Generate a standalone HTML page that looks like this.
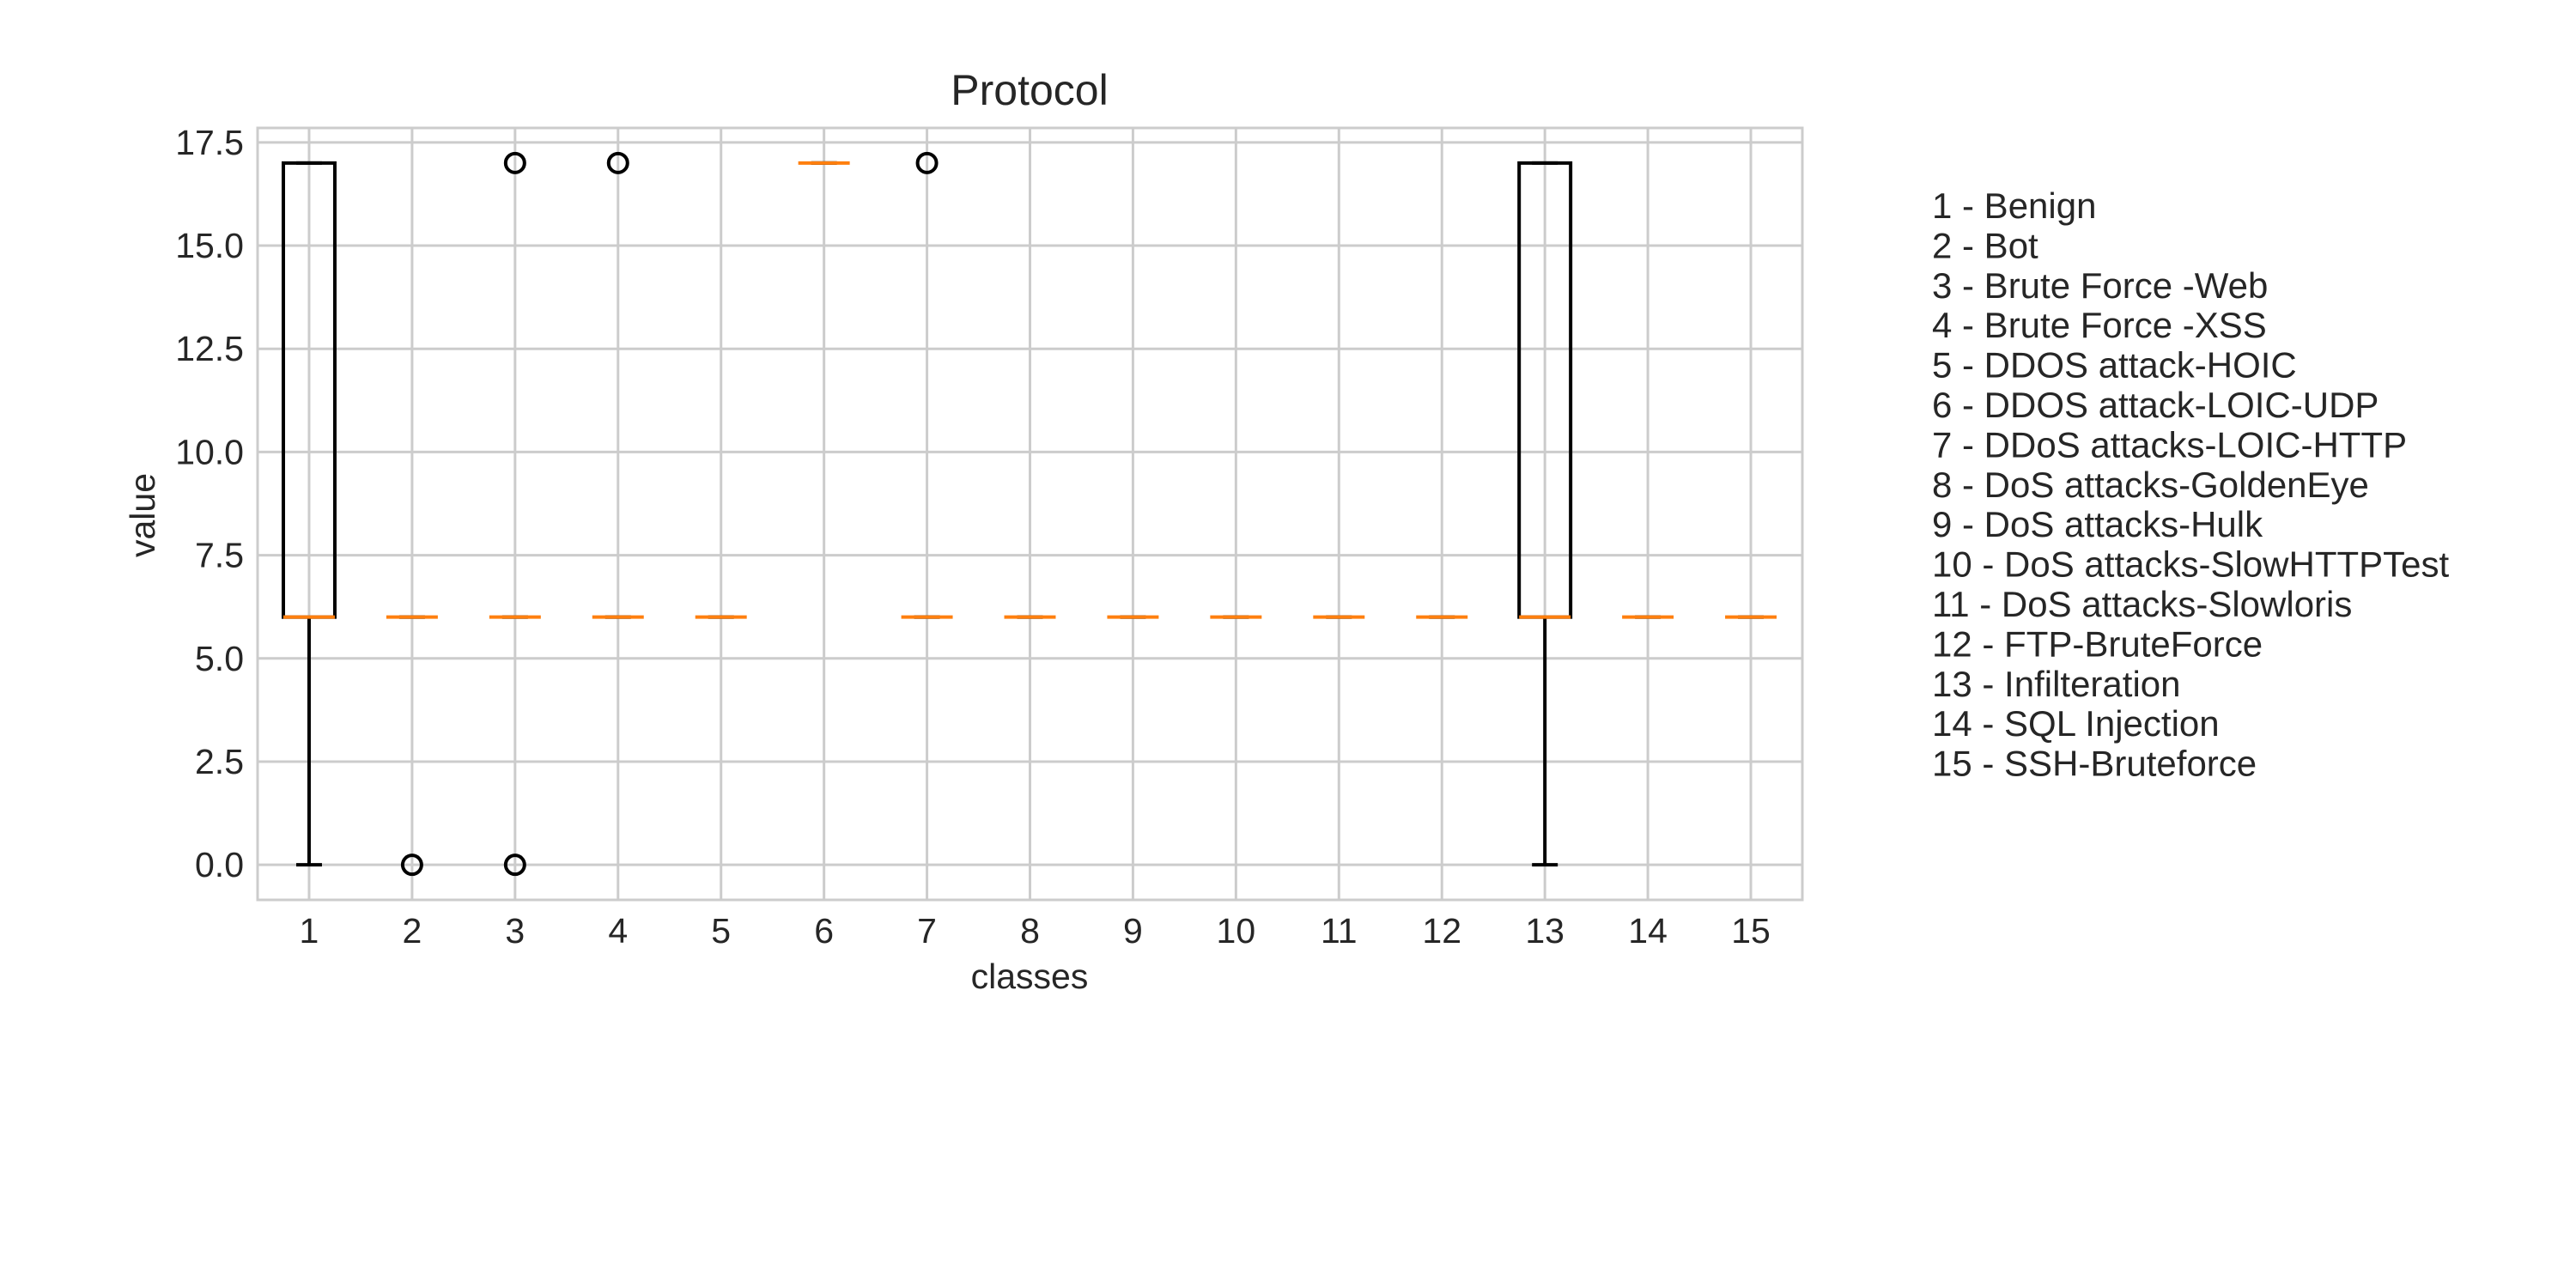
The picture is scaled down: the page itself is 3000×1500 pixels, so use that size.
<!DOCTYPE html>
<html><head><meta charset="utf-8"><style>
html,body{margin:0;padding:0;background:#fff;}
svg{display:block;font-family:"Liberation Sans",sans-serif;}
</style></head><body>
<svg id="chart" width="3000" height="1500" viewBox="0 0 3000 1500">
<text x="1199" y="122" font-size="50" text-anchor="middle" fill="#262626">Protocol</text>
<g id="grid"></g>
<g id="marks"></g>
<rect x="300" y="149" width="1799" height="899" fill="none" stroke="#cccccc" stroke-width="3"/>
<g id="ticks"></g>
<text x="1199" y="1151" font-size="41" text-anchor="middle" fill="#262626">classes</text>
<text transform="translate(180,600) rotate(-90)" font-size="41" text-anchor="middle" fill="#262626">value</text>
<g id="legend"></g>
</svg>
<script>
const categories = ["1","2","3","4","5","6","7","8","9","10","11","12","13","14","15"];
const q1Values = [6,6,6,6,6,17,6,6,6,6,6,6,6,6,6];
const medianValues = [6,6,6,6,6,17,6,6,6,6,6,6,6,6,6];
const q3Values = [17,6,6,6,6,17,6,6,6,6,6,6,17,6,6];
const whiskerLow = [0,6,6,6,6,17,6,6,6,6,6,6,0,6,6];
const whiskerHigh = [17,6,6,6,6,17,6,6,6,6,6,6,17,6,6];
const outliers = [[],[0],[17,0],[17],[],[],[17],[],[],[],[],[],[],[],[]];
const yTicks = [0,2.5,5,7.5,10,12.5,15,17.5];
const yTickLabels = ["0.0","2.5","5.0","7.5","10.0","12.5","15.0","17.5"];
const legendLabels = ["1 - Benign","2 - Bot","3 - Brute Force -Web","4 - Brute Force -XSS","5 - DDOS attack-HOIC","6 - DDOS attack-LOIC-UDP","7 - DDoS attacks-LOIC-HTTP","8 - DoS attacks-GoldenEye","9 - DoS attacks-Hulk","10 - DoS attacks-SlowHTTPTest","11 - DoS attacks-Slowloris","12 - FTP-BruteForce","13 - Infilteration","14 - SQL Injection","15 - SSH-Bruteforce"];

const L=300,R=2099,T=149,B=1048,Y0=-0.85,Y1=17.85,X0=0.5,X1=15.5;
const xs=v=>L+(v-X0)/(X1-X0)*(R-L);
const ys=v=>B-(v-Y0)/(Y1-Y0)*(B-T);
const NS="http://www.w3.org/2000/svg";
function mk(tag,attrs,parent){const e=document.createElementNS(NS,tag);for(const k in attrs)e.setAttribute(k,attrs[k]);parent.appendChild(e);return e;}
const grid=document.getElementById('grid'),marks=document.getElementById('marks'),ticks=document.getElementById('ticks'),legend=document.getElementById('legend');

yTicks.forEach((v,i)=>{
  const g=mk('line',{x1:L,x2:R,y1:ys(v),y2:ys(v),stroke:'#cccccc','stroke-width':3},grid);
  
  
  const t=mk('text',{x:L-16,y:ys(v)+14,'font-size':41,'text-anchor':'end',fill:'#262626'},ticks);
  t.textContent=yTickLabels[i];
  
  
});
categories.forEach((c,i)=>{
  const x=xs(i+1);
  const g=mk('line',{x1:x,x2:x,y1:T,y2:B,stroke:'#cccccc','stroke-width':3},grid);
  
  
  const t=mk('text',{x:x,y:B+50,'font-size':41,'text-anchor':'middle',fill:'#262626'},ticks);
  t.textContent=c;
  
  
  const hw=xs(1.25)-xs(1), cw=xs(1.125)-xs(1);
  const grp=mk('g',{},marks);
  
  
  const st={stroke:'#000','stroke-width':4,fill:'none'};
  mk('rect',Object.assign({x:x-hw,y:ys(q3Values[i]),width:2*hw,height:Math.max(0,ys(q1Values[i])-ys(q3Values[i]))},st),grp);
  mk('line',Object.assign({x1:x,x2:x,y1:ys(q1Values[i]),y2:ys(whiskerLow[i])},st),grp);
  mk('line',Object.assign({x1:x,x2:x,y1:ys(q3Values[i]),y2:ys(whiskerHigh[i])},st),grp);
  mk('line',Object.assign({x1:x-cw,x2:x+cw,y1:ys(whiskerLow[i]),y2:ys(whiskerLow[i])},st),grp);
  mk('line',Object.assign({x1:x-cw,x2:x+cw,y1:ys(whiskerHigh[i]),y2:ys(whiskerHigh[i])},st),grp);
  const m=mk('line',{x1:x-hw,x2:x+hw,y1:ys(medianValues[i]),y2:ys(medianValues[i]),stroke:'#ff7f0e','stroke-width':4},grp);
  
  
  outliers[i].forEach(o=>{
    const p=mk('circle',{cx:x,cy:ys(o),r:11,fill:'none',stroke:'#000','stroke-width':4},grp);
    
    
  });
});
legendLabels.forEach((s,i)=>{
  const t=mk('text',{x:2250,y:254+i*46.4,'font-size':42,fill:'#262626'},legend);
  t.textContent=s;
  
  
});
</script>
</body></html>
